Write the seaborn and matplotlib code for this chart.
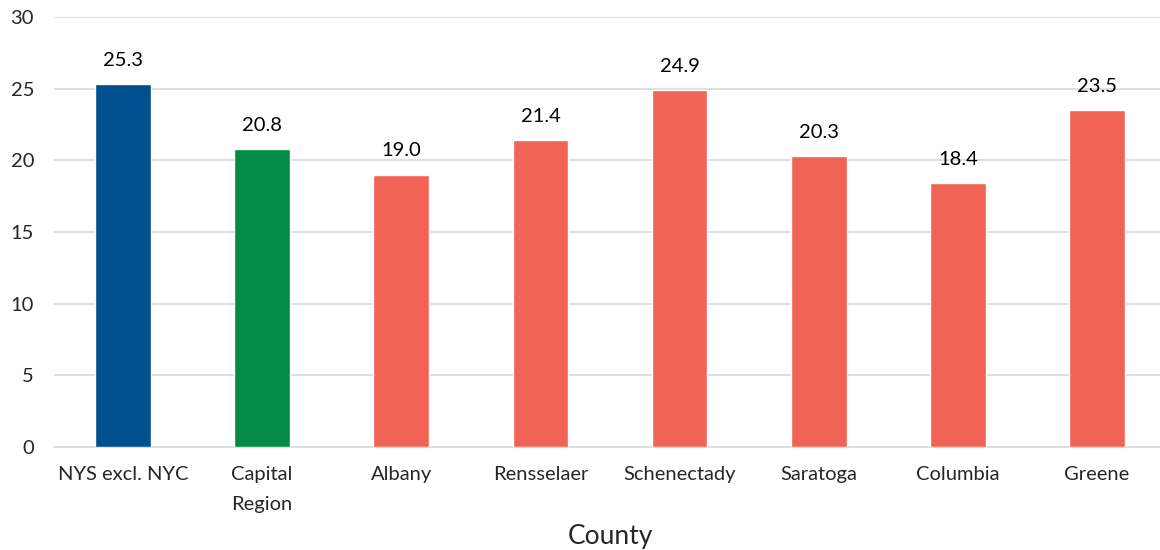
import matplotlib.pyplot as plt
import seaborn as sns
import pandas as pd

counties = ['NYS excl. NYC', 'Capital\nRegion', 'Albany', 'Rensselaer',
            'Schenectady', 'Saratoga', 'Columbia', 'Greene']
values = [25.3, 20.8, 19.0, 21.4, 24.9, 20.3, 18.4, 23.5]
bar_colors = ['#00508F', '#038B45', '#F06355', '#F06355',
              '#F06355', '#F06355', '#F06355', '#F06355']
y_ticks = [0, 5, 10, 15, 20, 25, 30]

df = pd.DataFrame({'County': counties, 'Value': values})

sns.set_style('white')
plt.rcParams['font.family'] = ['Lato', 'DejaVu Sans']

fig = plt.figure(figsize=(11.6, 5.5), dpi=100)
ax = fig.add_axes([53.5 / 1160, 1 - 447 / 550, 1113 / 1160, 430 / 550])

sns.barplot(data=df, x='County', y='Value', hue='County', palette=bar_colors,
            legend=False, width=0.4, saturation=1, ax=ax, zorder=3)

for p, v in zip(ax.patches, values):
    ax.annotate(f'{v:.1f}', (p.get_x() + p.get_width() / 2, v),
                xytext=(0, 11), textcoords='offset points',
                ha='center', va='bottom', fontsize=14.5, color='#000000')

ax.set_ylim(0, 30)
ax.set_yticks(y_ticks)
ax.set_yticklabels([str(t) for t in y_ticks], fontsize=14.5)
ax.tick_params(axis='x', labelsize=14.5, length=0, pad=14)
for lbl in ax.get_xticklabels():
    lbl.set_linespacing(1.9)
ax.tick_params(axis='y', length=0, pad=14)
ax.yaxis.grid(True, color='#D9D9D9', linewidth=1.2, zorder=0)
ax.set_axisbelow(True)
for s in ['top', 'right', 'left']:
    ax.spines[s].set_visible(False)
ax.spines['bottom'].set_color('#D9D9D9')
ax.spines['bottom'].set_linewidth(1.2)

ax.set_xlabel('County', fontsize=19, labelpad=8)
ax.set_ylabel('')

fig.savefig('out.png', dpi=100)
